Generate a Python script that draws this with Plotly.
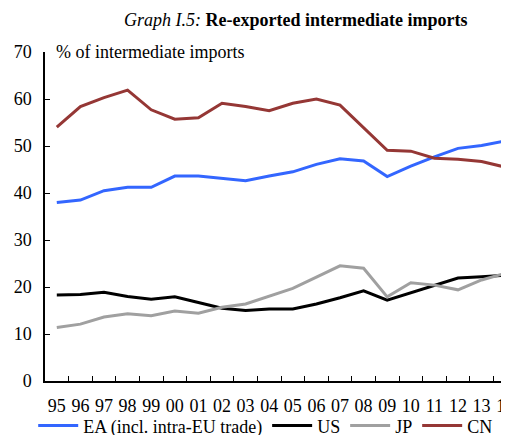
import plotly.graph_objects as go

# years on the x axis
years = ["95", "96", "97", "98", "99", "00", "01", "02", "03", "04",
         "05", "06", "07", "08", "09", "10", "11", "12", "13", "14"]

# % of intermediate imports that are re-exported
ea = [38.0, 38.5, 40.5, 41.2, 41.2, 43.6, 43.6, 43.1, 42.6, 43.6,
      44.5, 46.1, 47.3, 46.8, 43.5, 45.7, 47.7, 49.5, 50.1, 51.1]
us = [18.3, 18.4, 18.9, 18.0, 17.4, 17.9, 16.7, 15.5, 15.0, 15.3,
      15.3, 16.4, 17.7, 19.2, 17.2, 18.8, 20.4, 21.9, 22.2, 22.5]
jp = [11.4, 12.1, 13.6, 14.3, 13.9, 14.9, 14.4, 15.7, 16.4, 18.1,
      19.7, 22.1, 24.5, 24.0, 17.9, 20.9, 20.4, 19.4, 21.5, 22.9]
cn = [54.0, 58.4, 60.3, 61.9, 57.7, 55.7, 56.0, 59.1, 58.4, 57.5,
      59.1, 60.0, 58.7, 54.0, 49.1, 48.9, 47.4, 47.2, 46.7, 45.5]

serif = "Liberation Serif, Times New Roman, Times, serif"

fig = go.Figure()
fig.add_trace(go.Scatter(x=years, y=ea, mode="lines", name="EA (incl. intra-EU trade)",
                         line=dict(color="#3366ff", width=3)))
fig.add_trace(go.Scatter(x=years, y=us, mode="lines", name="US",
                         line=dict(color="#000000", width=3)))
fig.add_trace(go.Scatter(x=years, y=jp, mode="lines", name="JP",
                         line=dict(color="#a0a0a0", width=3)))
fig.add_trace(go.Scatter(x=years, y=cn, mode="lines", name="CN",
                         line=dict(color="#953735", width=3)))

# the page body has an 8px margin, so the figure is offset by 8px
fig.update_layout(
    width=509, height=435,
    margin=dict(l=37, r=0, t=44, b=62, autoexpand=False),
    paper_bgcolor="white", plot_bgcolor="white",
    font=dict(family=serif, size=18, color="black"),
    showlegend=True,
    legend=dict(orientation="h", x=-0.025, y=-0.08, xanchor="left", yanchor="top",
                font=dict(family=serif, size=18), itemwidth=40,
                tracegroupgap=0, bgcolor="rgba(0,0,0,0)"),
)

fig.update_xaxes(type="category", range=[-0.5, 19.5], tickson="boundaries",
                 ticks="inside", ticklen=5, tickcolor="black", tickangle=0,
                 showline=True, linecolor="black", linewidth=1.5,
                 showgrid=False, zeroline=False, ticklabelstandoff=8,
                 tickfont=dict(family=serif, size=18))
fig.update_yaxes(range=[0, 70], dtick=10, ticks="inside", ticklen=5, tickcolor="black",
                 showline=True, linecolor="black", linewidth=1.5,
                 showgrid=False, zeroline=False, ticklabelstandoff=8,
                 tickfont=dict(family=serif, size=18))

fig.add_annotation(xref="paper", yref="paper", x=0.02, y=1.0, xanchor="left", yanchor="middle",
                   text="% of intermediate imports", showarrow=False,
                   font=dict(family=serif, size=18))
fig.add_annotation(xref="paper", yref="paper", x=0.53, y=1.0, yshift=32, xanchor="center",
                   yanchor="middle",
                   text="<i>Graph I.5:</i> <b>Re-exported intermediate imports</b>",
                   showarrow=False, font=dict(family=serif, size=18))

fig.write_html("out.html")
